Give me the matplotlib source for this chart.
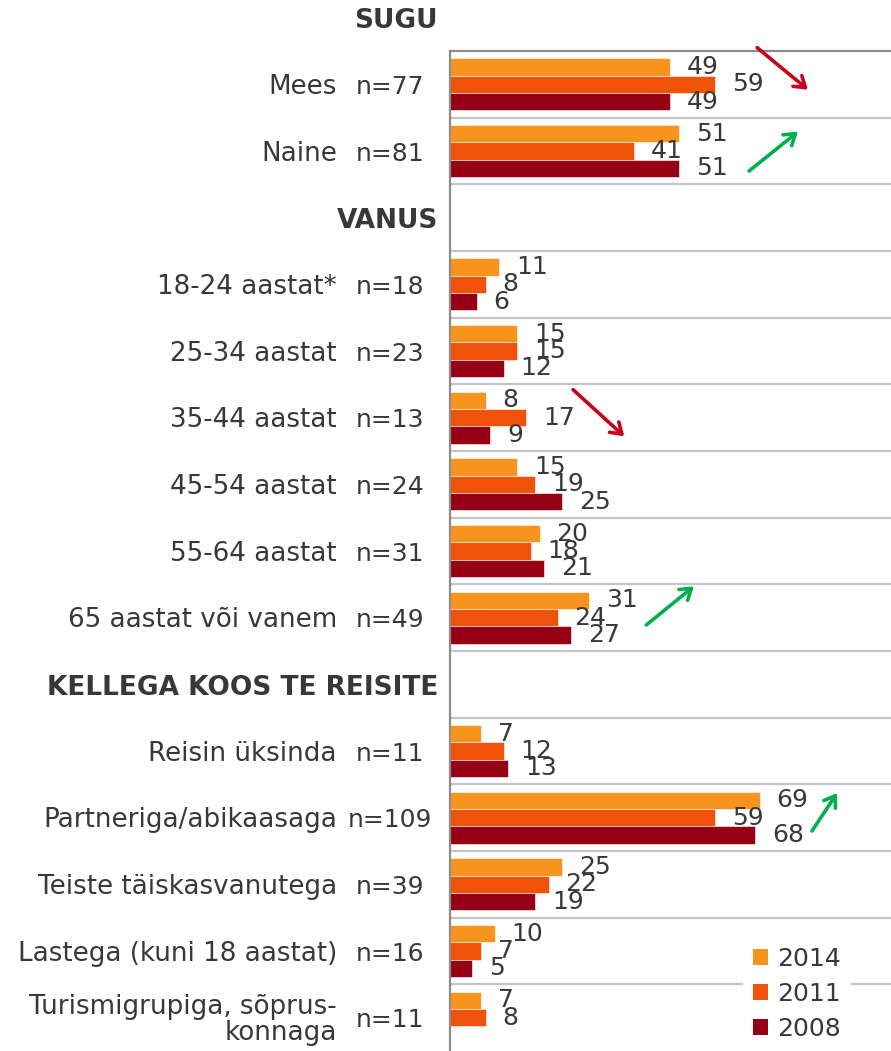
import matplotlib.pyplot as plt
import matplotlib.transforms as mtransforms
from matplotlib.patches import Patch
import numpy as np

# data
groups = ['SUGU', 'VANUS', 'KELLEGA KOOS TE REISITE']
group_sizes = [2, 6, 5]
cats = ['Mees', 'Naine',
        '18-24 aastat*', '25-34 aastat', '35-44 aastat', '45-54 aastat',
        '55-64 aastat', '65 aastat või vanem',
        'Reisin üksinda', 'Partneriga/abikaasaga', 'Teiste täiskasvanutega',
        'Lastega (kuni 18 aastat)', 'Turismigrupiga, sõprus-\nkonnaga']
n_vals = [77, 81, 18, 23, 13, 24, 31, 49, 11, 109, 39, 16, 11]
v2014 = [49, 51, 11, 15, 8, 15, 20, 31, 7, 69, 25, 10, 7]
v2011 = [59, 41, 8, 15, 17, 19, 18, 24, 12, 59, 22, 7, 8]
v2008 = [49, 51, 6, 12, 9, 25, 21, 27, 13, 68, 19, 5, np.nan]
years = ['2014', '2011', '2008']
colors = ['#F7941E', '#F0520A', '#950014']

txt = '#383838'
plt.rcParams['font.family'] = 'DejaVu Sans'

fig = plt.figure(figsize=(8.91, 10.51), dpi=100)
ax = fig.add_axes([450 / 891, 0, 441 / 891, 1 - 51 / 1051])

# row layout: header row then its items
header_rows = []
item_rows = []
row = -1
for g, size in zip(groups, group_sizes):
    header_rows.append(row)
    row += 1
    for i in range(size):
        item_rows.append(row)
        row += 1
item_rows = np.array(item_rows)
centers = item_rows + 0.5

bh = 0.26
series = [v2014, v2011, v2008]
for k, vals in enumerate(series):
    vals = np.array(vals, dtype=float)
    ypos = centers + (k - 1) * bh
    ok = ~np.isnan(vals)
    ax.barh(ypos[ok], vals[ok], height=bh, color=colors[k],
            edgecolor='white', linewidth=0.4)
    for y, v in zip(ypos[ok], vals[ok]):
        ax.annotate(f'{v:.0f}', (v, y), xytext=(12, 0), textcoords='offset points',
                    ha='left', va='center', fontsize=18, color=txt)

for r in range(1, row):
    ax.axhline(r, color='#C4C4C4', lw=1.6, zorder=0)

ax.set_xlim(0, 98.2)
ax.set_ylim(row, 0)
ax.set_xticks([])
ax.set_yticks([])
for s in ['right', 'bottom']:
    ax.spines[s].set_visible(False)
for s in ['left', 'top']:
    ax.spines[s].set_color('#8C8C8C')
    ax.spines[s].set_linewidth(1.6)

# category and n labels, left of the axis
trans = mtransforms.blended_transform_factory(fig.transFigure, ax.transData)
for c, n, y in zip(cats, n_vals, centers):
    ax.text(337 / 891, y + 0.04, c, transform=trans, ha='right', va='center',
            fontsize=18.8, color=txt, multialignment='right', linespacing=1.0,
            clip_on=False)
    ax.text(390 / 891, y + 0.04, f'n={n}', transform=trans, ha='center', va='center',
            fontsize=18, color=txt, clip_on=False)
for g, r in zip(groups, header_rows):
    ax.text(438 / 891, r + 0.55, g, transform=trans, ha='right', va='center',
            fontsize=19, fontweight='bold', color=txt, clip_on=False)

# trend arrows
arrows = [((68.4, -0.05), (79.7, 0.58), '#C8001E'),
          ((66.6, 1.80), (77.5, 1.21), '#00B04F'),
          ((27.4, 5.08), (38.8, 5.78), '#C8001E'),
          ((43.7, 8.61), (54.3, 8.03), '#00B04F'),
          ((80.6, 11.70), (86.2, 11.13), '#00B04F')]
for start, end, col in arrows:
    ax.annotate('', xy=end, xytext=start,
                arrowprops=dict(arrowstyle='->,head_length=0.75,head_width=0.5',
                                color=col, lw=2.6, shrinkA=0, shrinkB=0),
                annotation_clip=False)

handles = [Patch(facecolor=c, edgecolor='none') for c in colors]
leg = ax.legend(handles, years, loc='upper left', bbox_to_anchor=(0.635, 0.127),
                fontsize=18, frameon=True, facecolor='white', edgecolor='none',
                framealpha=1, handlelength=0.6, handleheight=0.6,
                handletextpad=0.4, labelspacing=0.45, borderpad=0.4)
for t in leg.get_texts():
    t.set_color(txt)

fig.savefig('out.png', dpi=100)
